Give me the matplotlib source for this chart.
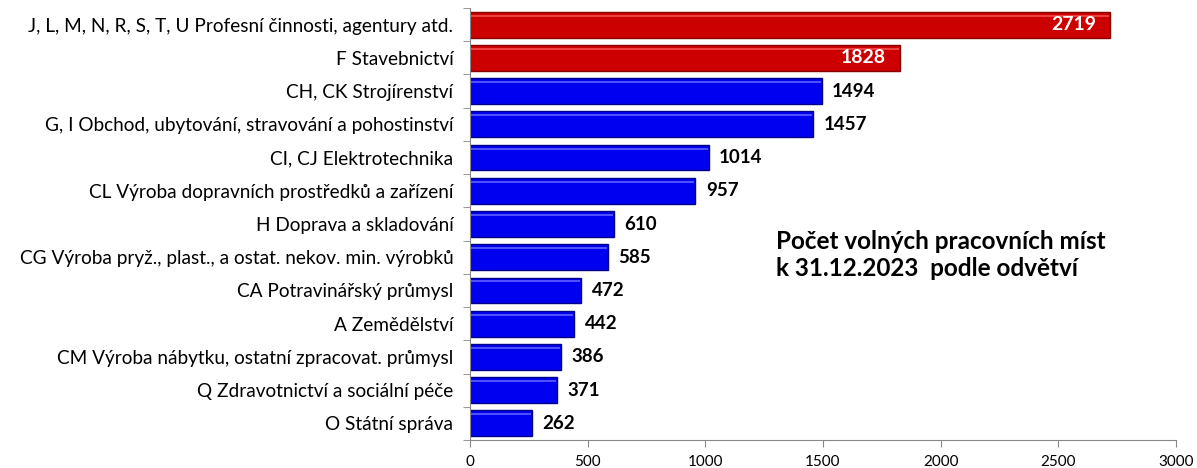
import matplotlib
matplotlib.use("Agg")
import matplotlib.pyplot as plt
import numpy as np

categories = [
    "J, L, M, N, R, S, T, U Profesní činnosti, agentury atd.",
    "F Stavebnictví",
    "CH, CK Strojírenství",
    "G, I Obchod, ubytování, stravování a pohostinství",
    "CI, CJ Elektrotechnika",
    "CL Výroba dopravních prostředků a zařízení",
    "H Doprava a skladování",
    "CG Výroba pryž., plast., a ostat. nekov. min. výrobků",
    "CA Potravinářský průmysl",
    "A Zemědělství",
    "CM Výroba nábytku, ostatní zpracovat. průmysl",
    "Q Zdravotnictví a sociální péče",
    "O Státní správa",
]
values = [2719, 1828, 1494, 1457, 1014, 957, 610, 585, 472, 442, 386, 371, 262]
highlight = [True, True] + [False] * 11
xticks = [0, 500, 1000, 1500, 2000, 2500, 3000]
title = "Počet volných pracovních míst\nk 31.12.2023  podle odvětví"

plt.rcParams['font.family'] = ['Lato', 'DejaVu Sans']

fig = plt.figure(figsize=(11.97, 4.68), dpi=100)
ax = fig.add_axes([470/1197, 1 - 440/468, (1176-470)/1197, (440-8)/468])

n = len(categories)
y = np.arange(n)
colors = ['#CC0000' if h else '#0000F0' for h in highlight]
edges = ['#8A0000' if h else '#00008A' for h in highlight]
hl = ['#F04040' if h else '#5050FF' for h in highlight]
bh = 0.78
ax.barh(y, values, height=bh, color=colors, edgecolor=edges, linewidth=1.0, zorder=2)
# highlight strip
ax.barh(y - bh/2 + 0.12, [v - 8 for v in values], left=4, height=0.06, color=hl, linewidth=0, zorder=3)

for yi, v, h in zip(y, values, highlight):
    if h:
        ax.text(v - 60, yi, str(v), ha='right', va='center', color='white',
                fontsize=14, fontweight='bold', zorder=4)
    else:
        ax.text(v + 45, yi, str(v), ha='left', va='center', color='black',
                fontsize=13.5, fontweight='bold', zorder=4)

ax.set_xlim(0, 3000)
ax.set_ylim(n - 0.5, -0.5)
ax.set_xticks(xticks)
ax.set_xticklabels([str(t) for t in xticks], fontsize=11)
ax.set_yticks(y)
ax.set_yticklabels(categories, fontsize=13.7)
ax.tick_params(axis='y', length=0, pad=12)
ax.set_yticks(np.arange(n + 1) - 0.5, minor=True)
ax.tick_params(axis='y', which='minor', length=5, color='#888888')
ax.tick_params(axis='x', length=5, color='#888888', pad=6)
for s in ['top', 'right']:
    ax.spines[s].set_visible(False)
for s in ['left', 'bottom']:
    ax.spines[s].set_color('#888888')

fig.text(776/1197, 1 - 255/468, title, fontsize=17.5, fontweight='bold',
         ha='left', va='center', linespacing=1.2)

fig.savefig('out.png', dpi=100)
